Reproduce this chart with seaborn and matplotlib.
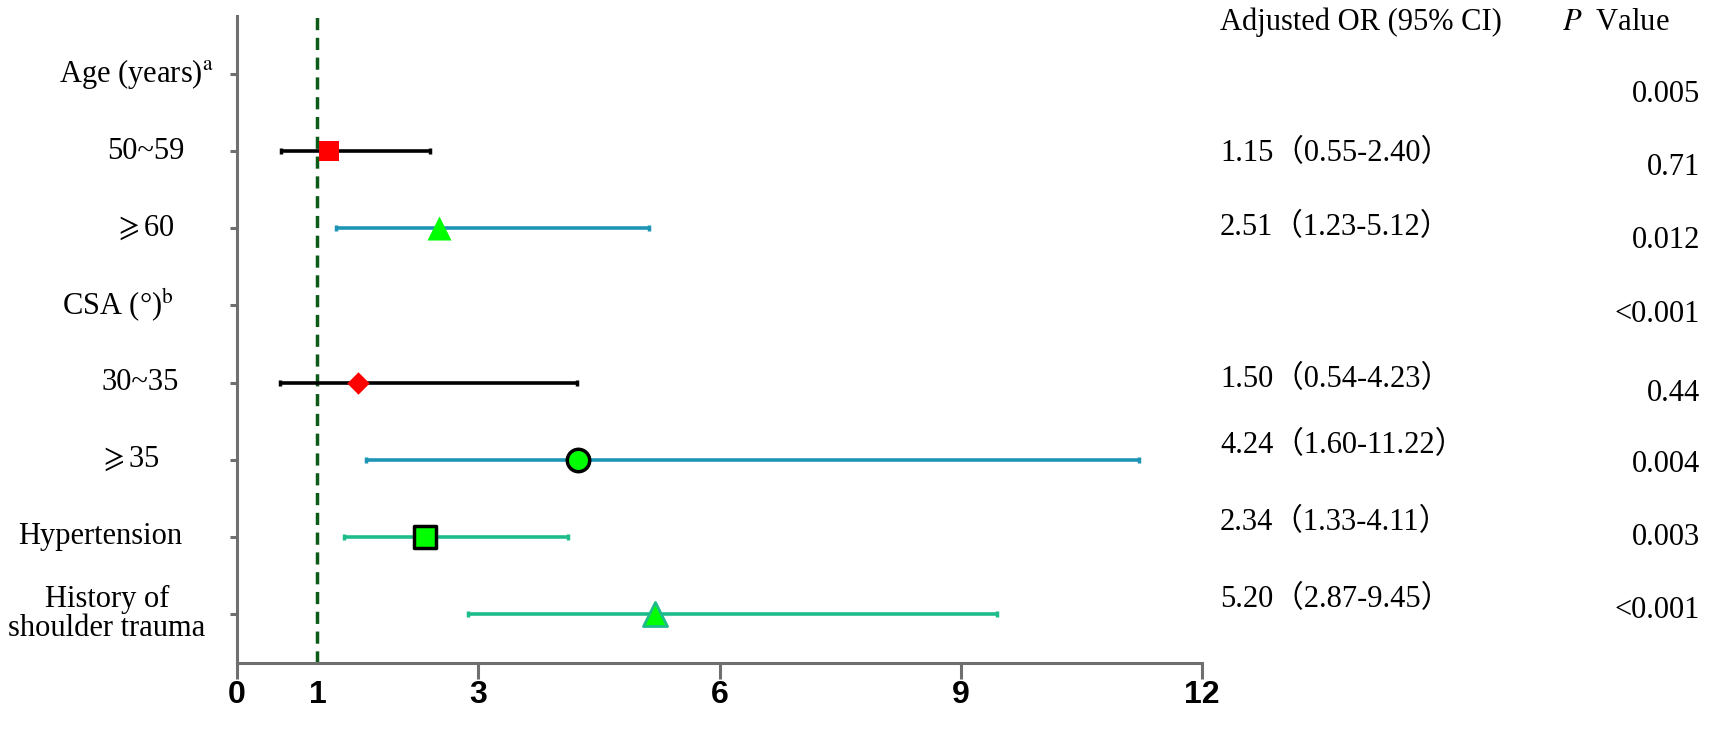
import matplotlib
matplotlib.use('Agg')
import seaborn as sns
import matplotlib.pyplot as plt
import matplotlib.transforms as mtransforms
import pandas as pd
import numpy as np

# data
labels = ['Age (years)$^{\\mathrm{a}}$', '50~59', '$\\geqslant$60', 'CSA (°)$^{\\mathrm{b}}$',
          '30~35', '$\\geqslant$35', 'Hypertension', 'History of\nshoulder trauma']
odds = [np.nan, 1.15, 2.51, np.nan, 1.50, 4.24, 2.34, 5.20]
ci_low = [np.nan, 0.55, 1.23, np.nan, 0.54, 1.60, 1.33, 2.87]
ci_high = [np.nan, 2.40, 5.12, np.nan, 4.23, 11.22, 4.11, 9.45]
p_values = ['0.005', '0.71', '0.012', '<0.001', '0.44', '0.004', '0.003', '<0.001']
xticks = [0, 1, 3, 6, 9, 12]

df = pd.DataFrame({'label': labels, 'OR': odds, 'low': ci_low, 'high': ci_high, 'p': p_values})
df['pos'] = np.arange(len(df))

# styles per row
markers = [None, 's', '^', None, 'D', 'o', 's', '^']
faces = [None, '#ff0000', '#00ff00', None, '#ff0000', '#00ff00', '#00ff00', '#00ff00']
edges = [None, '#ff0000', '#00ff00', None, '#ff0000', 'black', 'black', '#1fbc8b']
edge_w = [0, 0, 0, 0, 0, 2.5, 2.5, 2]
sizes = [0, 220, 300, 0, 130, 260, 230, 300]
line_cols = [None, 'black', '#1e95b4', None, 'black', '#1e95b4', '#1fbc8b', '#1fbc8b']
label_cx = [137, 146, 144, 118, 140, 130, 100, 107]   # label centres in px
or_nudge = [0, 0.03, -0.01, 0, -0.04, -0.18, -0.18, -0.19]
p_nudge = [0.27, 0.21, 0.16, 0.12, 0.14, 0.06, 0.01, -0.05]

sns.set_style('white')
plt.rcParams['font.family'] = ['Liberation Serif', 'Noto Sans CJK SC', 'DejaVu Sans']
plt.rcParams['mathtext.fontset'] = 'stix'
plt.rcParams['text.color'] = 'black'

W, H = 1713, 741
fig = plt.figure(figsize=(W / 100, H / 100), dpi=100)
ax = fig.add_axes([237 / W, 1 - 663 / H, (1202 - 237) / W, (663 - 16) / H])

grey = '#6f6f6f'
ax.axvline(1, color='#0b5a17', lw=2.5, ls=(0, (3.5, 2.2)), zorder=1)

for i, row in df.iterrows():
    if np.isnan(row['OR']):
        continue
    ax.errorbar(row['OR'], row['pos'],
                xerr=[[row['OR'] - row['low']], [row['high'] - row['OR']]],
                fmt='none', ecolor=line_cols[i], elinewidth=2.6, capsize=2.5, capthick=2.5, zorder=2)
    sns.scatterplot(x=[row['OR']], y=[row['pos']], marker=markers[i], s=sizes[i],
                    color=faces[i], edgecolor=edges[i], linewidth=edge_w[i], ax=ax, zorder=3, legend=False)

ax.set_xlim(0, 12)
ax.set_ylim(7.635, -0.752)
ax.set_xticks(xticks)
ax.set_xticklabels([str(t) for t in xticks], fontsize=23, fontweight='bold',
                   family=['Liberation Sans'])
ax.set_yticks(df['pos'])
ax.set_yticklabels([])
ax.tick_params(axis='x', bottom=True, direction='out', length=11.5, width=2.2, color=grey,
               pad=1, labelcolor='black')
ax.tick_params(axis='y', left=True, direction='out', length=5, width=2.2, color=grey)
# no tick mark at the reference line, only its label
for t, loc in zip(ax.xaxis.get_major_ticks(), xticks):
    if loc == 1:
        t.tick1line.set_visible(False)
for s in ['top', 'right']:
    ax.spines[s].set_visible(False)
for s in ['left', 'bottom']:
    ax.spines[s].set_color(grey)
    ax.spines[s].set_linewidth(2.2)
ax.set_xlabel('')
ax.set_ylabel('')

# row labels
trans = mtransforms.blended_transform_factory(fig.transFigure, ax.transData)
for i, row in df.iterrows():
    ax.text(label_cx[i] / W, row['pos'], row['label'], transform=trans,
            ha='center', va='center', fontsize=22, linespacing=1.0)

# right side columns
fig.text(1220 / W, 1 - 22 / H, 'Adjusted OR (95% CI)', fontsize=22, va='center', ha='left')
fig.text(1562 / W, 1 - 22 / H, '$P$  Value', fontsize=22, va='center', ha='left')
for i, row in df.iterrows():
    if not np.isnan(row['OR']):
        txt = f"{row['OR']:.2f}（{row['low']:.2f}-{row['high']:.2f}）"
        ax.text(1220 / W, row['pos'] + or_nudge[i], txt, transform=trans,
                ha='left', va='center', fontsize=22)
    ax.text(1700 / W, row['pos'] + p_nudge[i], row['p'], transform=trans,
            ha='right', va='center', fontsize=22)

fig.savefig('out.png', dpi=100, facecolor='white')
